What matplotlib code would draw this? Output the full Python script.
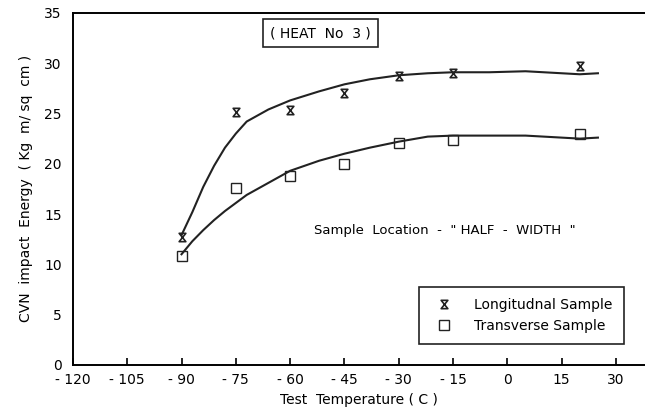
import numpy as np
import matplotlib.pyplot as plt
from matplotlib.path import Path

# Measured points
temps = [-90, -75, -60, -45, -30, -15, 20]
longit = [12.7, 25.1, 25.3, 27.0, 28.7, 29.0, 29.7]
transv = [10.8, 17.6, 18.8, 20.0, 22.1, 22.4, 23.0]

# Hand-drawn fit curves
curve_t = [-90, -87, -84, -81, -78, -75, -72, -66, -60, -52, -45, -38, -30, -22, -15, -5, 5, 15, 20, 25]
curve_long = [12.9, 15.2, 17.7, 19.8, 21.6, 23.0, 24.2, 25.4, 26.3, 27.2, 27.9, 28.4, 28.8, 29.0, 29.1, 29.1, 29.2, 29.0, 28.9, 29.0]
curve_trans = [11.0, 12.3, 13.4, 14.4, 15.3, 16.1, 16.9, 18.1, 19.3, 20.3, 21.0, 21.6, 22.2, 22.7, 22.8, 22.8, 22.8, 22.6, 22.5, 22.6]

xticks = [-120, -105, -90, -75, -60, -45, -30, -15, 0, 15, 30]
yticks = [0, 5, 10, 15, 20, 25, 30, 35]

# hourglass marker
hourglass = Path([(-0.8, 1), (0.8, 1), (-0.8, -1), (0.8, -1), (-0.8, 1)],
                 [Path.MOVETO, Path.LINETO, Path.LINETO, Path.LINETO, Path.CLOSEPOLY])

plt.rcParams['font.family'] = 'DejaVu Sans'
fig = plt.figure(figsize=(6.45, 4.17), dpi=100)
ax = fig.add_axes([0.113, 0.125, 0.887, 0.844])

ax.plot(curve_t, curve_long, color='#222222', lw=1.5)
ax.plot(curve_t, curve_trans, color='#222222', lw=1.5)
ax.plot(temps, longit, linestyle='none', marker=hourglass, ms=6, mfc='none',
        mec='#222222', mew=1.2, label='Longitudnal Sample')
ax.plot(temps, transv, linestyle='none', marker='s', ms=7, mfc='none',
        mec='#222222', mew=1.0, label='Transverse Sample')

ax.set_xlim(-120, 38)
ax.set_ylim(0, 35)
ax.set_xticks(xticks)
ax.set_yticks(yticks)
ax.set_xticklabels([str(t).replace('-', '- ') for t in xticks])
ax.tick_params(axis='x', direction='in', length=5, width=1.2, labelsize=10, pad=6)
ax.tick_params(axis='y', length=0, labelsize=10, pad=8)
for s in ['left', 'bottom', 'top']:
    ax.spines[s].set_linewidth(1.4)
ax.spines['right'].set_visible(False)

ax.set_xlabel('Test  Temperature ( C )', fontsize=10)
ax.set_ylabel('CVN  impact  Energy  ( Kg  m/ sq  cm )', fontsize=10, labelpad=8)

ax.text(-51.7, 33.0, '( HEAT  No  3 )', ha='center', va='center', fontsize=10,
        bbox=dict(boxstyle='square,pad=0.5', fc='white', ec='#222222', lw=1.2))
ax.text(-17.2, 13.4, 'Sample  Location  -  " HALF  -  WIDTH  "', ha='center',
        va='center', fontsize=9.5)

leg = ax.legend(loc='lower right', bbox_to_anchor=(0.975, 0.04), fancybox=False,
                edgecolor='#222222', fontsize=10, handletextpad=1.2,
                borderpad=0.8, framealpha=1)
leg.get_frame().set_linewidth(1.2)

plt.savefig('out.png', dpi=100)
